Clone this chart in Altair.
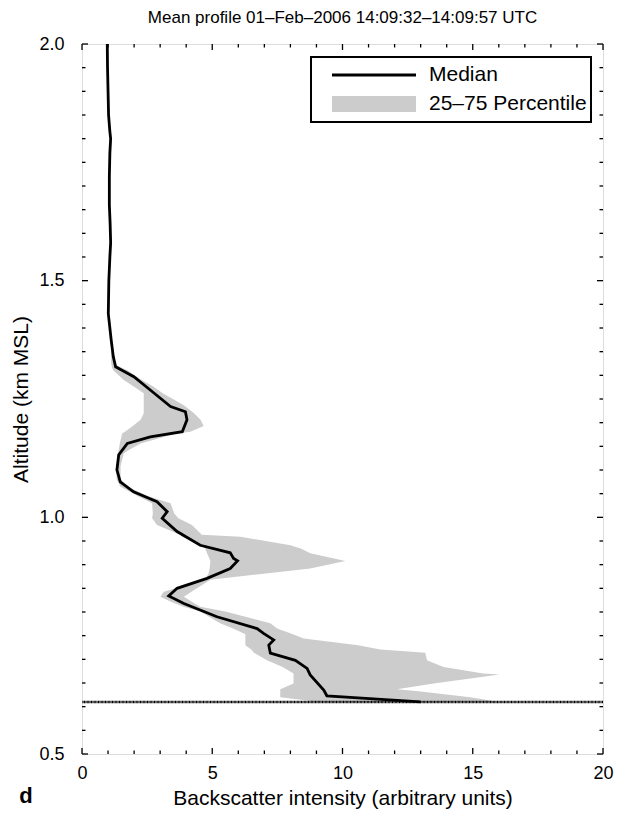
import altair as alt
import pandas as pd

# ---- data ----
med_alt = [2.000, 1.950, 1.900, 1.850, 1.815, 1.800, 1.770, 1.720, 1.660, 1.620, 1.580, 1.550,
           1.500, 1.430, 1.375, 1.340, 1.318, 1.297, 1.269, 1.234, 1.223, 1.206, 1.181, 1.170,
           1.156, 1.132, 1.100, 1.075, 1.054, 1.033, 1.012, 0.998, 0.970, 0.941, 0.925, 0.913,
           0.908, 0.892, 0.871, 0.850, 0.834, 0.818, 0.790, 0.765, 0.755, 0.741, 0.730, 0.713,
           0.698, 0.681, 0.667, 0.635, 0.623, 0.610]
med_val = [0.97, 0.98, 1.00, 1.02, 1.07, 1.10, 1.07, 1.05, 1.05, 1.08, 1.10, 1.07,
           1.03, 1.01, 1.12, 1.20, 1.29, 1.99, 2.62, 3.40, 3.97, 4.03, 3.85, 2.62,
           1.74, 1.41, 1.34, 1.47, 1.98, 2.88, 3.27, 3.08, 3.65, 4.54, 5.69, 5.82,
           5.97, 5.69, 4.80, 3.65, 3.33, 3.91, 5.18, 6.72, 6.97, 7.36, 7.17, 7.23,
           8.19, 8.64, 8.76, 9.28, 9.40, 12.99]

band_alt = [1.350, 1.325, 1.315, 1.311, 1.290, 1.276, 1.262, 1.237, 1.220, 1.206, 1.193, 1.181,
            1.177, 1.156, 1.142, 1.135, 1.108, 1.080, 1.065, 1.045, 1.030, 1.008, 0.998, 0.984,
            0.963, 0.959, 0.941, 0.934, 0.924, 0.908, 0.892, 0.880, 0.868, 0.843, 0.832, 0.822,
            0.811, 0.801, 0.776, 0.765, 0.753, 0.744, 0.730, 0.721, 0.714, 0.698, 0.684, 0.670,
            0.668, 0.649, 0.637, 0.632, 0.620, 0.613, 0.610]
band_lo = [1.12, 1.12, 1.16, 1.20, 1.60, 2.00, 2.37, 2.37, 2.37, 2.25, 1.95, 1.65,
           1.54, 1.45, 1.41, 1.38, 1.33, 1.33, 1.47, 2.13, 2.69, 2.72, 2.69, 2.88,
           3.77, 3.85, 4.60, 4.73, 4.80, 4.93, 4.90, 4.85, 4.70, 3.14, 3.01, 3.39,
           3.90, 4.54, 5.30, 5.80, 6.27, 6.27, 6.27, 6.50, 6.60, 7.10, 7.70, 8.12,
           8.12, 8.12, 7.61, 7.61, 7.61, 8.64, 9.00]
band_hi = [1.16, 1.22, 1.55, 1.74, 2.30, 2.75, 3.10, 3.91, 4.30, 4.55, 4.67, 4.16,
           3.60, 2.25, 1.80, 1.60, 1.48, 1.48, 1.74, 2.51, 3.40, 3.54, 3.70, 4.22,
           4.60, 6.08, 8.00, 8.40, 8.76, 10.11, 8.76, 6.80, 4.93, 4.20, 3.91, 4.20,
           4.54, 5.50, 7.23, 7.49, 8.10, 8.51, 10.60, 11.45, 13.18, 13.24, 13.88, 15.40,
           16.03, 13.50, 12.09, 13.00, 14.90, 15.67, 15.90]

ground_alt = [0.61]

x_major = [0, 5, 10, 15, 20]
x_minor = [1, 2, 3, 4, 6, 7, 8, 9, 11, 12, 13, 14, 16, 17, 18, 19]
y_major = [0.5, 1.0, 1.5, 2.0]
y_minor = [0.55, 0.60, 0.65, 0.70, 0.75, 0.80, 0.85, 0.90, 0.95,
           1.05, 1.10, 1.15, 1.20, 1.25, 1.30, 1.35, 1.40, 1.45,
           1.55, 1.60, 1.65, 1.70, 1.75, 1.80, 1.85, 1.90, 1.95]

legend_labels = ["Median", "25\u201375 Percentile"]
title_text = "Mean profile 01\u2013Feb\u20132006 14:09:32\u201314:09:57 UTC"

# ---- layout ----
W, H = 521, 710
FONT = "Liberation Sans"
GRAY = "#cccccc"

med_df = pd.DataFrame({"alt": med_alt, "val": med_val, "i": list(range(len(med_alt)))})
band_df = pd.DataFrame({"alt": band_alt, "lo": band_lo, "hi": band_hi})

xs = alt.Scale(domain=[0, 20], nice=False, zero=False)
ys = alt.Scale(domain=[0.5, 2.0], nice=False, zero=False)

x_axis = alt.Axis(values=x_major, tickSize=0, domain=False, grid=False, labelFontSize=18,
                  labelPadding=10, labelFlush=False, labelOverlap=False,
                  title="Backscatter intensity (arbitrary units)",
                  titleFontSize=21, titleFontWeight="normal", titlePadding=5,
                  labelFont=FONT, titleFont=FONT, labelColor="black", titleColor="black")
y_axis = alt.Axis(values=y_major, tickSize=0, domain=False, grid=False, labelFontSize=18,
                  labelPadding=18, labelFlush=False, labelOverlap=False, format=".1f",
                  title="Altitude (km MSL)",
                  titleFontSize=21, titleFontWeight="normal", titlePadding=7,
                  labelFont=FONT, titleFont=FONT, labelColor="black", titleColor="black")

band = alt.Chart(band_df).mark_area(orient="horizontal", color=GRAY, opacity=1).encode(
    y=alt.Y("alt:Q", scale=ys, axis=y_axis),
    x=alt.X("lo:Q", scale=xs, axis=x_axis),
    x2="hi:Q",
)

median = alt.Chart(med_df).mark_line(color="black", strokeWidth=2.8).encode(
    y=alt.Y("alt:Q", scale=ys),
    x=alt.X("val:Q", scale=xs),
    order="i:Q",
)

ground = alt.Chart(pd.DataFrame({"alt": ground_alt})).mark_rule(
    color="black", strokeWidth=2.6, strokeDash=[1, 0.4]
).encode(y=alt.Y("alt:Q", scale=ys))

# inward ticks on all four sides
def xticks(vals, length):
    d = pd.DataFrame({"v": vals})
    bot = alt.Chart(d).mark_rule(color="black", strokeWidth=1.3).encode(
        x=alt.X("v:Q", scale=xs), y=alt.value(H), y2=alt.value(H - length))
    top = alt.Chart(d).mark_rule(color="black", strokeWidth=1.3).encode(
        x=alt.X("v:Q", scale=xs), y=alt.value(0), y2=alt.value(length))
    return bot + top

def yticks(vals, length):
    d = pd.DataFrame({"v": vals})
    left = alt.Chart(d).mark_rule(color="black", strokeWidth=1.3).encode(
        y=alt.Y("v:Q", scale=ys), x=alt.value(0), x2=alt.value(length))
    right = alt.Chart(d).mark_rule(color="black", strokeWidth=1.3).encode(
        y=alt.Y("v:Q", scale=ys), x=alt.value(W), x2=alt.value(W - length))
    return left + right

ticks = xticks(x_major, 6) + xticks(x_minor, 3.5) + yticks(y_major, 6) + yticks(y_minor, 3.5)

# legend box (drawn inside plot, top-right)
lg = pd.DataFrame({"k": [0]})
leg_box = alt.Chart(lg).mark_rect(fill="white", stroke="black", strokeWidth=2).encode(
    x=alt.value(229), x2=alt.value(509), y=alt.value(13), y2=alt.value(78))
leg_line = alt.Chart(lg).mark_rule(color="black", strokeWidth=2.8).encode(
    x=alt.value(250), x2=alt.value(334), y=alt.value(31))
leg_rect = alt.Chart(lg).mark_rect(color=GRAY).encode(
    x=alt.value(250), x2=alt.value(334), y=alt.value(52), y2=alt.value(68))
leg_t1 = alt.Chart(lg).mark_text(align="left", baseline="middle", fontSize=21, font=FONT,
                                 color="black", text=legend_labels[0]).encode(
    x=alt.value(347), y=alt.value(31))
leg_t2 = alt.Chart(lg).mark_text(align="left", baseline="middle", fontSize=21, font=FONT,
                                 color="black", text=legend_labels[1]).encode(
    x=alt.value(347), y=alt.value(60))

panel_letter = alt.Chart(lg).mark_text(align="center", baseline="middle", fontSize=22,
                                       fontWeight="bold", font=FONT, color="black",
                                       text="d").encode(x=alt.value(-56), y=alt.value(752))

chart = alt.layer(
    band, median, ground, ticks, leg_box, leg_line, leg_rect, leg_t1, leg_t2, panel_letter
).properties(
    width=W, height=H,
    title=alt.TitleParams(title_text, fontSize=17, fontWeight="normal", font=FONT,
                          color="black", offset=8, anchor="middle"),
    autosize=alt.AutoSizeParams(type="none"),
    padding={"left": 82, "top": 44, "right": 23, "bottom": 63},
).configure_view(stroke="black", strokeWidth=2).configure(background="white")

chart.save("out.html", embed_options={"renderer": "svg", "actions": False})
